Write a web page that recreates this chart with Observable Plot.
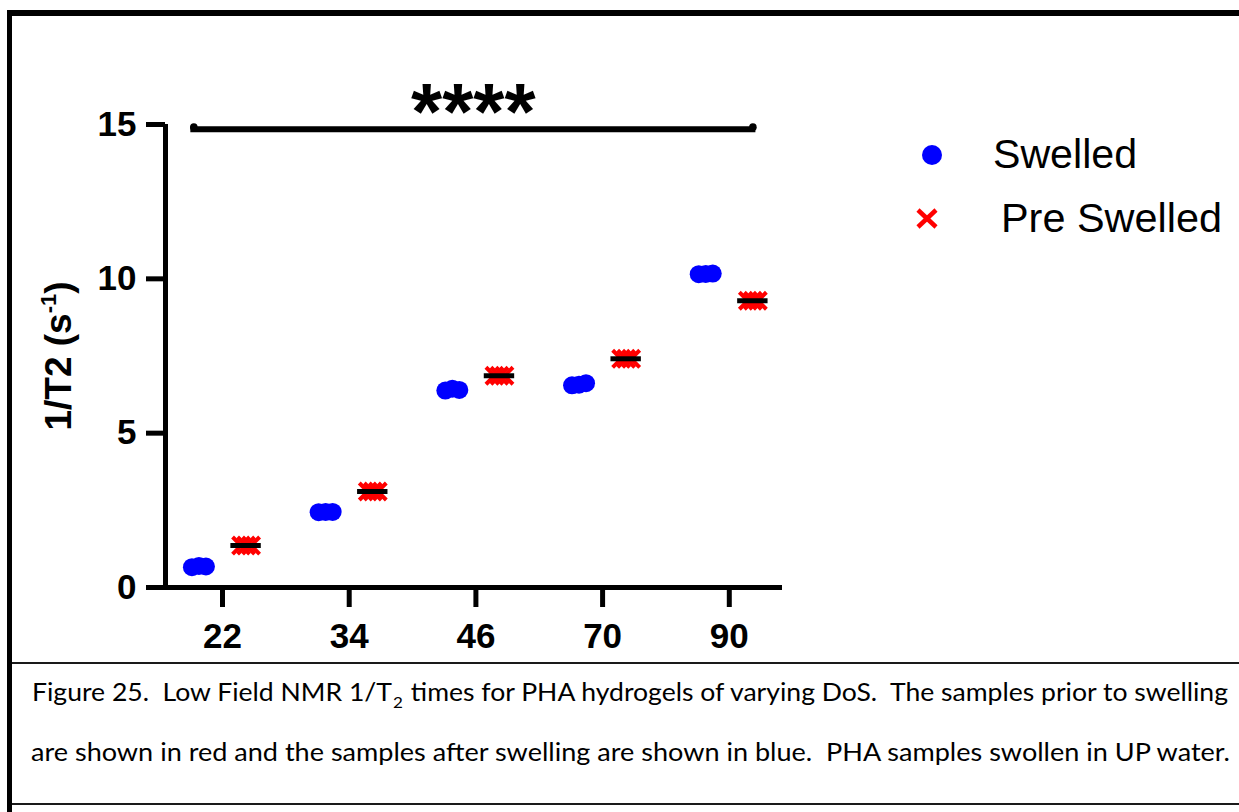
<!DOCTYPE html>
<html>
<head>
<meta charset="utf-8">
<script src="https://cdn.jsdelivr.net/npm/d3@7"></script>
<script src="https://cdn.jsdelivr.net/npm/@observablehq/plot@0.6"></script>
<style>
  html, body { margin: 0; padding: 0; background: #fff; }
  #fig { position: relative; width: 1239px; height: 812px; overflow: hidden; background: #fff; }
  #chart { position: absolute; left: 0; top: 0; }
  #border { position: absolute; left: 7px; top: 10px; width: 1400px; height: 1000px;
            border-left: 5px solid #000; border-top: 6px solid #000; pointer-events: none; }
  #caption { position: absolute; left: 12px; top: 662px; width: 1400px; height: 139px;
             border-top: 2px solid #1a1a1a; border-bottom: 2px solid #1a1a1a; }
  #capsvg { position: absolute; left: 0; top: 0; }
</style>
</head>
<body>
<div id="fig">
  <div id="chart"></div>
  <div id="caption"></div>
  <svg id="capsvg" width="1239" height="812"></svg>
  <div id="border"></div>
</div>
<script>
// ---- data ----
const dos = ["22", "34", "46", "70", "90"];            // degree of substitution categories
const swelledA = [0.66, 2.44, 6.38, 6.55, 10.15];     // Swelled replicate 1 (1/T2, s^-1)
const swelledB = [0.68, 2.45, 6.40, 6.62, 10.17];     // Swelled replicate 2
const swelledC = [0.70, 2.45, 6.44, 6.57, 10.16];     // Swelled replicate 3
const preSwelled = [1.36, 3.11, 6.86, 7.41, 9.29];    // Pre Swelled (mean)
const yTicks = [0, 5, 10, 15];
const series = ["Swelled", "Pre Swelled"];
const sig = { x1: -0.25, x2: 4.21, y: 14.85, label: "****" };

const blue = "#0000ff", red = "#ff0000";
const xMin = -0.45, xMax = 4.42;
const off = 0.186;

const rows = dos.map((d, i) => ({ i, dos: d, swA: swelledA[i], swB: swelledB[i], swC: swelledC[i], pre: preSwelled[i] }));
const font = "'Liberation Sans', Arial, Helvetica, sans-serif";

const chart = Plot.plot({
  width: 1239,
  height: 662,
  marginLeft: 165,
  marginRight: 457,
  marginTop: 124,
  marginBottom: 75,
  x: { domain: [xMin, xMax], axis: null },
  y: { domain: [0, 15], axis: null },
  style: { fontFamily: font, background: "transparent", color: "#000", overflow: "visible" },
  marks: [
    Plot.ruleY([0], { stroke: "#000", strokeWidth: 5, insetLeft: -17 }),
    Plot.ruleX([xMin], { stroke: "#000", strokeWidth: 5, insetBottom: -2 }),
    Plot.axisY(yTicks, { anchor: "left", tickSize: 19, tickPadding: 10, strokeWidth: 5,
      fontSize: 35, fontWeight: "bold", label: null, tickFormat: d => String(d) }),
    Plot.axisX(dos.map((d, i) => i), { anchor: "bottom", tickSize: 20, tickPadding: 16, strokeWidth: 5,
      fontSize: 35, fontWeight: "bold", label: null, tickFormat: i => dos[i] }),
    Plot.dot(rows, { x: d => d.i - off, y: "swA", r: 9, fill: blue, dx: -7 }),
    Plot.dot(rows, { x: d => d.i - off, y: "swC", r: 9, fill: blue, dx: 0 }),
    Plot.dot(rows, { x: d => d.i - off, y: "swB", r: 9, fill: blue, dx: 7 }),
    ...[-5, 0, 5].map(dx => Plot.dot(rows, { x: d => d.i + off, y: "pre", symbol: "times", r: 7.8,
      stroke: red, strokeWidth: 4, dx })),
    Plot.ruleY(rows, { y: "pre", x1: d => d.i + off - 0.12, x2: d => d.i + off + 0.12,
      stroke: "#000", strokeWidth: 5 }),
    Plot.ruleY([sig], { y: "y", x1: "x1", x2: "x2", stroke: "#000", strokeWidth: 6 }),
    Plot.dot([sig], { x: "x1", y: "y", r: 3.8, fill: "#000", dx: 3, dy: -2 }),
    Plot.dot([sig], { x: "x2", y: "y", r: 3.8, fill: "#000", dx: -3, dy: -2 }),
    Plot.text([sig], { x: d => (d.x1 + d.x2) / 2, y: "y", text: "label", fontSize: 80,
      fontWeight: "bold", lineAnchor: "bottom", dy: 10, fill: "#000" })
  ]
});
document.getElementById("chart").appendChild(chart);

const svg = d3.select(chart);
// y-axis title with superscript
const yl = svg.append("text")
  .attr("transform", "translate(71,356) rotate(-90)")
  .attr("text-anchor", "middle")
  .attr("font-family", font)
  .attr("font-weight", "bold")
  .attr("font-size", 37)
  .attr("fill", "#000");
yl.append("tspan").text("1/T2 (s");
yl.append("tspan").attr("font-size", 22).attr("dy", -15).text("-1");
yl.append("tspan").attr("dy", 15).text(")");

// legend
const lg = svg.append("g").attr("font-family", font).attr("font-size", 40)
  .attr("fill", "#000").attr("text-anchor", "start");
lg.append("circle").attr("cx", 932).attr("cy", 155).attr("r", 10).attr("fill", blue);
lg.append("text").attr("x", 993).attr("y", 168).attr("text-anchor", "start")
  .attr("textLength", 144).attr("lengthAdjust", "spacingAndGlyphs").text(series[0]);
const xg = lg.append("g").attr("stroke", red).attr("stroke-width", 4.5);
xg.append("line").attr("x1", 918).attr("y1", 210).attr("x2", 936).attr("y2", 227);
xg.append("line").attr("x1", 918).attr("y1", 227).attr("x2", 936).attr("y2", 210);
lg.append("text").attr("x", 1001).attr("y", 232).attr("text-anchor", "start")
  .attr("textLength", 221).attr("lengthAdjust", "spacingAndGlyphs").text(series[1]);

// caption
const cap = d3.select("#capsvg").append("g")
  .attr("font-family", "Lato, 'Open Sans', sans-serif")
  .attr("font-size", 25)
  .attr("fill", "#000")
  .attr("text-anchor", "start");
const l1 = cap.append("text").attr("x", 32).attr("y", 701)
  .attr("textLength", 1196).attr("lengthAdjust", "spacingAndGlyphs")
  .style("white-space", "pre");
l1.append("tspan").text("Figure 25.  Low Field NMR 1/T");
l1.append("tspan").attr("font-size", 16).attr("dx", 1).attr("dy", 7).text("2");
l1.append("tspan").attr("dx", 1).attr("dy", -7).text(" times for PHA hydrogels of varying DoS.  The samples prior to swelling");
cap.append("text").attr("x", 31).attr("y", 761)
  .attr("textLength", 1199).attr("lengthAdjust", "spacingAndGlyphs")
  .style("white-space", "pre")
  .text("are shown in red and the samples after swelling are shown in blue.  PHA samples swollen in UP water.");
</script>
</body>
</html>
